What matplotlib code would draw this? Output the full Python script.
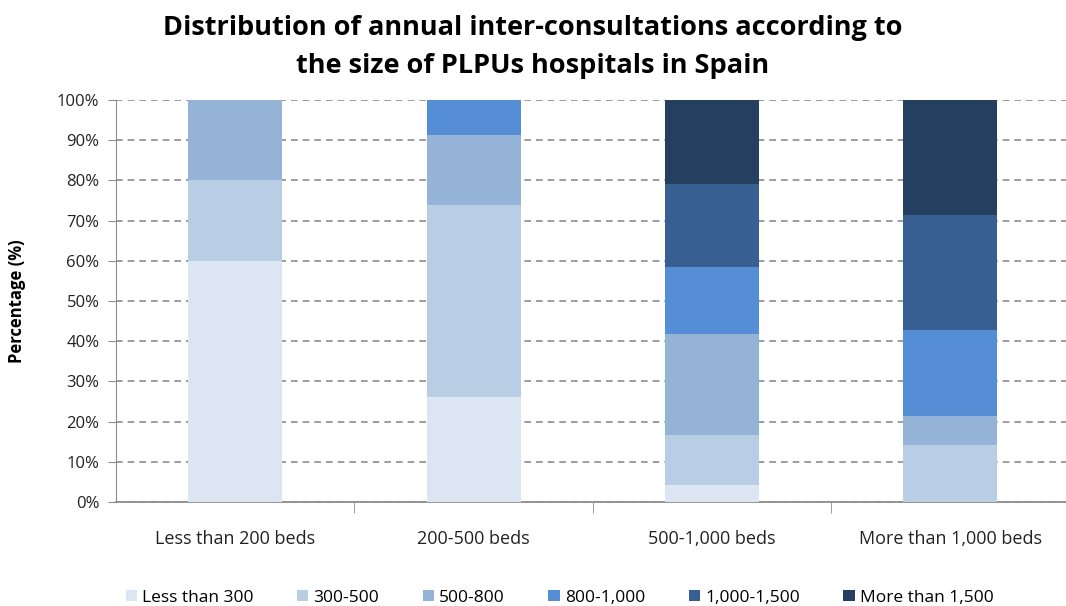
import numpy as np
import matplotlib.pyplot as plt

plt.rcParams['font.family'] = ['Open Sans', 'DejaVu Sans']

# Datos (porcentajes por tamano de hospital)
hospitales = ["Less than 200 beds", "200-500 beds", "500-1,000 beds", "More than 1,000 beds"]
series = ["Less than 300", "300-500", "500-800", "800-1,000", "1,000-1,500", "More than 1,500"]
menos_300 = [60.0, 26.1, 4.2, 0.0]
de_300_500 = [20.0, 47.8, 12.5, 14.3]
de_500_800 = [20.0, 17.4, 25.0, 7.1]
de_800_1000 = [0.0, 8.7, 16.7, 21.4]
de_1000_1500 = [0.0, 0.0, 20.8, 28.6]
mas_1500 = [0.0, 0.0, 20.8, 28.6]
valores = [menos_300, de_300_500, de_500_800, de_800_1000, de_1000_1500, mas_1500]
cores = ["#dce6f2", "#b9cde5", "#95b3d7", "#558ed5", "#375f91", "#243f60"]

fig = plt.figure(figsize=(10.66, 6.06), dpi=100)
ax = fig.add_axes([0.109, 0.1716, 0.894, 0.6634])

x = np.arange(len(hospitales))
base = np.zeros(len(hospitales))
for nome, v, c in zip(series, valores, cores):
    ax.bar(x, v, 0.395, bottom=base, color=c, label=nome, zorder=3)
    base += np.array(v)

ax.set_ylim(0, 100)
ax.set_xlim(-0.5, 3.5)
ax.set_yticks(range(0, 101, 10))
ax.set_yticklabels([f"{t}%" for t in range(0, 101, 10)], fontsize=12, color="#222222")
ax.yaxis.grid(True, linestyle=(0, (4, 3)), color="#8c8c8c", linewidth=1.2, zorder=0)
ax.set_xticks(x)
ax.set_xticklabels(hospitales, fontsize=13, color="#222222")
ax.set_xticks([0.5, 1.5, 2.5], minor=True)
ax.tick_params(axis="x", which="major", length=0, pad=20)
ax.tick_params(axis="x", which="minor", length=8, color="#8c8c8c")
ax.tick_params(axis="y", length=6, color="#8c8c8c", pad=6)

for s in ["top", "right"]:
    ax.spines[s].set_visible(False)
ax.spines["left"].set_color("#8c8c8c")
ax.spines["bottom"].set_color("#8c8c8c")
ax.spines["bottom"].set_linewidth(1.3)

ax.set_ylabel("Percentage (%)", fontsize=12, fontweight="bold", labelpad=22)
fig.suptitle("Distribution of annual inter-consultations according to\nthe size of PLPUs hospitals in Spain",
             fontsize=19.5, fontweight="bold", y=0.975, x=0.5, linespacing=1.6)

fig.legend(loc="lower center", bbox_to_anchor=(0.525, -0.025), ncol=6, frameon=False,
           fontsize=12.5, handlelength=0.65, handleheight=0.65, handletextpad=0.3, columnspacing=2.5)

fig.savefig("out.png")
